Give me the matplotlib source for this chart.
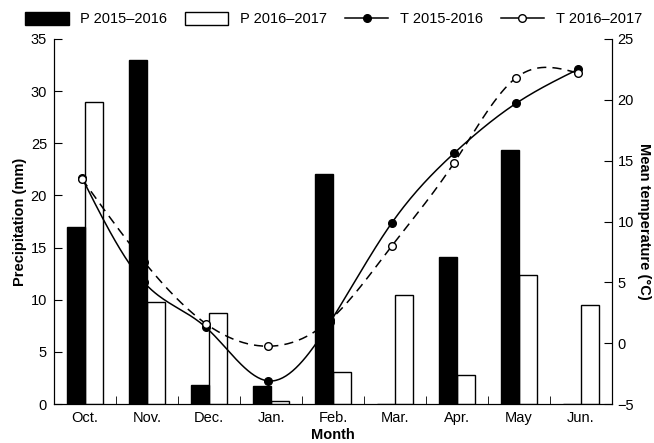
import matplotlib
matplotlib.use("Agg")
import matplotlib.pyplot as plt
from matplotlib.patches import Patch
from matplotlib.lines import Line2D
import numpy as np

plt.rcParams['font.family'] = ['Liberation Sans', 'DejaVu Sans']
plt.rcParams['font.size'] = 10.5

months = ["Oct.", "Nov.", "Dec.", "Jan.", "Feb.", "Mar.", "Apr.", "May", "Jun."]
p_2015 = [17.0, 33.0, 1.85, 1.7, 22.1, 0.0, 14.1, 24.4, 0.0]
p_2016 = [29.0, 9.8, 8.75, 0.3, 3.1, 10.45, 2.75, 12.4, 9.5]
t_2015 = [13.6, 5.0, 1.3, -3.1, 1.7, 9.9, 15.6, 19.7, 22.5]
t_2016 = [13.5, 6.7, 1.6, -0.25, 1.9, 8.0, 14.8, 21.8, 22.2]


def natural_spline(x, y, n=300):
    # smooth line through the monthly values (natural cubic spline)
    x = np.asarray(x, float)
    y = np.asarray(y, float)
    k = len(x)
    h = np.diff(x)
    A = np.zeros((k, k))
    b = np.zeros(k)
    A[0, 0] = A[-1, -1] = 1
    for i in range(1, k - 1):
        A[i, i - 1] = h[i - 1]
        A[i, i] = 2 * (h[i - 1] + h[i])
        A[i, i + 1] = h[i]
        b[i] = 6 * ((y[i + 1] - y[i]) / h[i] - (y[i] - y[i - 1]) / h[i - 1])
    m = np.linalg.solve(A, b)
    xs = np.linspace(x[0], x[-1], n)
    idx = np.clip(np.searchsorted(x, xs) - 1, 0, k - 2)
    x0, x1 = x[idx], x[idx + 1]
    hh = x1 - x0
    ys = (m[idx] * (x1 - xs) ** 3 / (6 * hh) + m[idx + 1] * (xs - x0) ** 3 / (6 * hh)
          + (y[idx] / hh - m[idx] * hh / 6) * (x1 - xs)
          + (y[idx + 1] / hh - m[idx + 1] * hh / 6) * (xs - x0))
    return xs, ys


x = np.arange(len(months))
w = 0.29
xt = x - 0.05   # temperature points sit just left of the bar pair centre

fig = plt.figure(figsize=(6.54, 4.43), dpi=100)
ax = fig.add_axes([0.0826, 0.0880, 0.8532, 0.8240])
ax2 = ax.twinx()
ax.set_zorder(2)
ax.patch.set_visible(False)
ax2.set_zorder(1)

ax.set_xlim(-0.5, 8.5)
ax.set_ylim(0, 35)
ax2.set_ylim(-5, 25)

# white bars, then temperature lines, then black bars on top
ax.bar(x + w / 2, p_2016, w, color="white", edgecolor="black", linewidth=1, zorder=1)
tr = ax2.transData
xs, ys = natural_spline(xt, t_2015)
ax.plot(xs, ys, color="black", lw=1.1, transform=tr, zorder=2)
ax.plot(xt, t_2015, "o", color="black", ms=5.5, transform=tr, zorder=2)
xs, ys = natural_spline(xt, t_2016)
ax.plot(xs, ys, color="black", lw=1.1, ls=(0, (6, 4)), transform=tr, zorder=2)
ax.plot(xt, t_2016, "o", mfc="white", mec="black", ms=5.5, mew=1, transform=tr, zorder=2)
ax.bar(x - w / 2, p_2015, w, color="black", edgecolor="black", linewidth=1, zorder=3)

ax.set_xlim(-0.5, 8.5)
ax.set_ylim(0, 35)
ax.set_yticks(range(0, 36, 5))
ax2.set_yticks(range(-5, 26, 5))
ax.set_xticks(x)
ax.set_xticklabels(months)
ax.set_xticks(x[:-1] + 0.5, minor=True)
ax.tick_params(axis="x", which="major", length=0, pad=5)
ax.tick_params(axis="x", which="minor", direction="in", length=6)
ax.tick_params(axis="y", direction="in", length=6, pad=5)
ax2.tick_params(axis="y", direction="in", length=6, pad=4)

for a in (ax, ax2):
    a.spines["top"].set_visible(False)

ax.set_xlabel("Month", fontweight="bold", labelpad=2)
ax.set_ylabel("Precipitation (mm)", fontweight="bold", labelpad=3)
ax2.set_ylabel("Mean temperature (°C)", fontweight="bold", rotation=270, labelpad=12)

handles = [
    Patch(facecolor="black", edgecolor="black"),
    Patch(facecolor="white", edgecolor="black"),
    Line2D([], [], color="black", marker="o", ms=5.5, lw=1.1),
    Line2D([], [], color="black", marker="o", mfc="white", ms=5.5, lw=1.1),
]
labels = ["P 2015\u20132016", "P 2016\u20132017", "T 2015-2016", "T 2016\u20132017"]
fig.legend(handles, labels, loc="center", bbox_to_anchor=(0.51, 0.957), ncol=4,
           frameon=False, handlelength=3, handleheight=1.0, columnspacing=1.2,
           handletextpad=0.8)

fig.savefig("out.png", dpi=100)
